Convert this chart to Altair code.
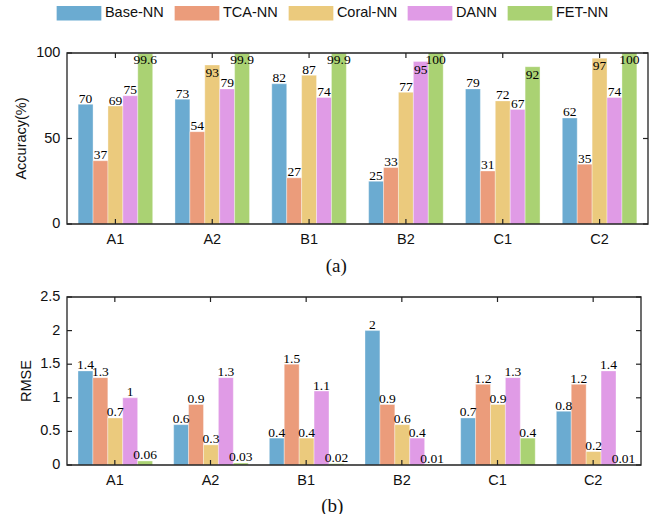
import altair as alt
import pandas as pd

# Cases and methods
groups = ["A1", "A2", "B1", "B2", "C1", "C2"]
methods = ["Base-NN", "TCA-NN", "Coral-NN", "DANN", "FET-NN"]
colors = ["#6BABD1", "#EB9C7B", "#EBCA7D", "#E09BE6", "#AAD273"]

# Accuracy (%) per method, one value per case
acc_base = [70, 73, 82, 25, 79, 62]
acc_tca = [37, 54, 27, 33, 31, 35]
acc_coral = [69, 93, 87, 77, 72, 97]
acc_dann = [75, 79, 74, 95, 67, 74]
acc_fet = [99.6, 99.9, 99.9, 100, 92, 100]

# RMSE per method, one value per case
rmse_base = [1.4, 0.6, 0.4, 2, 0.7, 0.8]
rmse_tca = [1.3, 0.9, 1.5, 0.9, 1.2, 1.2]
rmse_coral = [0.7, 0.3, 0.4, 0.6, 0.9, 0.2]
rmse_dann = [1, 1.3, 1.1, 0.4, 1.3, 1.4]
rmse_fet = [0.06, 0.03, 0.02, 0.01, 0.4, 0.01]

# y tick values of each panel
acc_ticks = [0, 50, 100]
rmse_ticks = [0, 0.5, 1, 1.5, 2, 2.5]

FRAME = "#222222"
INK = "#111111"
SANS = "Liberation Sans"
SERIF = "Liberation Serif"
TICK = 5


def label_pos(v, cap):
    # near-full bars: the value goes just inside the frame, or a little
    # down inside the bar so it clears its neighbour's label
    if cap - 1.5 < v < cap + 6.5:
        return v - 8
    return min(v, cap)


def to_frame(series, label_cap):
    rows = []
    for m, vals in zip(methods, series):
        for g, v in zip(groups, vals):
            rows.append({
                "group": g,
                "method": m,
                "value": v,
                "label": f"{v:g}",
                "label_y": label_pos(v, label_cap),
            })
    return pd.DataFrame(rows)


acc_df = to_frame([acc_base, acc_tca, acc_coral, acc_dann, acc_fet], 92.5)
rmse_df = to_frame([rmse_base, rmse_tca, rmse_coral, rmse_dann, rmse_fet], 10)


def panel(df, domain, ticks, ytitle, caption, width, height,
          ytitle_x, caption_x, caption_y, legend):
    xscale = alt.Scale(paddingInner=0.23, paddingOuter=0.115)
    yscale = alt.Scale(domain=domain, nice=False, zero=True)
    xoff = alt.XOffset("method:N", sort=methods,
                       scale=alt.Scale(paddingInner=0, paddingOuter=0))
    color_legend = None
    if legend:
        # wide flat swatches: the path reaches 5 units right of the entry's
        # symbol centre, so the label is pushed past it with labelOffset
        color_legend = alt.Legend(
            orient="none", legendX=-10.4, legendY=-47.4, direction="horizontal",
            title=None, symbolType="M-1,-0.967H5V0.967H-1Z", symbolSize=222,
            symbolStrokeWidth=0, symbolOpacity=1, labelFont=SANS,
            labelFontSize=14.5, labelColor=INK, labelOffset=33.3,
            columnPadding=10, padding=0,
        )
    color = alt.Color("method:N", sort=methods,
                      scale=alt.Scale(domain=methods, range=colors),
                      legend=color_legend)

    gx_x = alt.X("group:N", sort=groups, scale=xscale, axis=None)

    bars = alt.Chart(df).mark_bar(stroke="white", strokeWidth=0.5,
                                  strokeOpacity=0.7).encode(
        x=gx_x,
        xOffset=xoff,
        y=alt.Y("value:Q", scale=yscale, axis=None),
        color=color,
    )

    labels = alt.Chart(df).mark_text(
        font=SERIF, fontSize=13.5, color="#000", baseline="alphabetic", dy=-1.5
    ).encode(
        x=gx_x,
        xOffset=xoff,
        y=alt.Y("label_y:Q", scale=yscale, axis=None),
        text="label:N",
    )

    # axis furniture: tick labels, inward ticks and titles as plain marks
    gx = alt.Chart(pd.DataFrame({"group": groups}))
    gy = alt.Chart(pd.DataFrame({"tick": ticks}))
    one = alt.Chart(pd.DataFrame({"k": [0]}))
    gy_y = alt.Y("tick:Q", scale=yscale, axis=None)

    x_labels = gx.mark_text(font=SANS, fontSize=14.5, color=INK,
                            baseline="middle").encode(
        x=gx_x, y=alt.value(height + 16.3), text="group:N")
    y_labels = gy.mark_text(font=SANS, fontSize=14.5, color=INK,
                            align="right", baseline="middle").encode(
        y=gy_y, x=alt.value(-6.6), text=alt.Text("tick:Q", format="~r"))
    y_title = one.mark_text(font=SANS, fontSize=14.5, color=INK, angle=270,
                            align="center", baseline="middle").encode(
        x=alt.value(ytitle_x), y=alt.value(height / 2), text=alt.value(ytitle))
    caption_text = one.mark_text(font=SERIF, fontSize=19, color=INK,
                                 align="center", baseline="middle").encode(
        x=alt.value(caption_x), y=alt.value(caption_y), text=alt.value(caption))

    rule = dict(color=FRAME, strokeWidth=1.2)
    x_ticks_top = gx.mark_rule(**rule).encode(
        x=gx_x, y=alt.value(0), y2=alt.value(TICK))
    x_ticks_bottom = gx.mark_rule(**rule).encode(
        x=gx_x, y=alt.value(height - TICK), y2=alt.value(height))
    y_ticks_left = gy.mark_rule(**rule).encode(
        y=gy_y, x=alt.value(0), x2=alt.value(TICK))
    y_ticks_right = gy.mark_rule(**rule).encode(
        y=gy_y, x=alt.value(width - TICK), x2=alt.value(width))

    # box around the plot area
    frame = one.mark_rect(fillOpacity=0, stroke=FRAME, strokeWidth=1.3).encode(
        x=alt.value(0), x2=alt.value(width),
        y=alt.value(0), y2=alt.value(height))

    return alt.layer(
        bars, labels, x_ticks_top, x_ticks_bottom, y_ticks_left,
        y_ticks_right, frame, x_labels, y_labels, y_title, caption_text
    ).properties(width=width, height=height)


top = panel(acc_df, [0, 100], acc_ticks, "Accuracy(%)", "(a)",
            581, 171, -44.7, 269.3, 213.3, True)
bottom = panel(rmse_df, [0, 2.5], rmse_ticks, "RMSE", "(b)",
               574, 168, -40, 265.3, 209.3, False)

chart = alt.vconcat(top, bottom, spacing=12).properties(
    padding={"left": 14, "top": 5, "right": 5, "bottom": 2}
).configure(
    background="white"
).configure_view(
    strokeWidth=0
)

chart.save("out.html", embed_options={"renderer": "svg", "actions": False})
